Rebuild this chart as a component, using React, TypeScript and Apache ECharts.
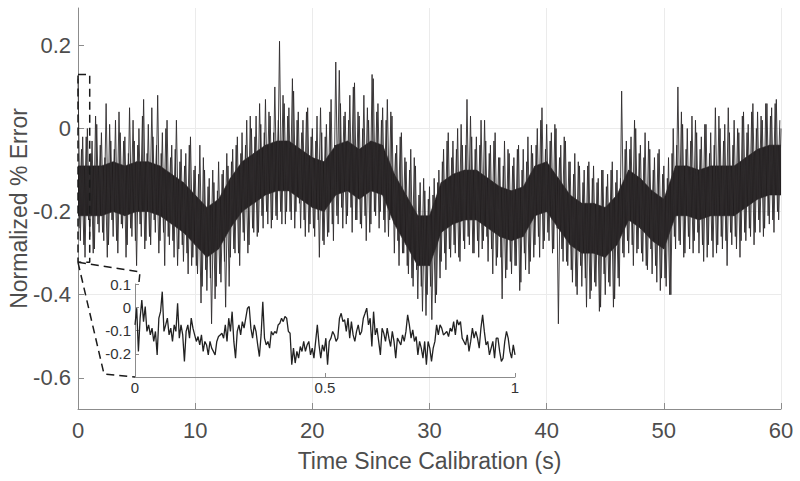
import React, { useEffect, useRef } from "react";
import * as echarts from "echarts";

// Main trace: normalized % error (hand-read, dense noisy band).
// Samples at t = 0, 0.2, 0.4, ... 60 s
const mainStep = 0.2;
const mainValues: number[] = [
  0.12, -0.27, -0.02, -0.31, 0.0,
  -0.26, -0.03, -0.29, 0.01, -0.25,
  -0.01, -0.27, 0.06, -0.28, -0.03,
  -0.26, 0.02, -0.3, -0.01, -0.24,
  -0.02, -0.28, 0.05, -0.26, -0.03,
  -0.33, 0.0, -0.26, 0.07, -0.27,
  0.01, -0.28, -0.02, -0.25, 0.08,
  -0.27, -0.01, -0.33, 0.02, -0.28,
  -0.04, -0.31, 0.02, -0.29, -0.05,
  -0.32, -0.06, -0.35, -0.02, -0.31,
  -0.09, -0.35, -0.04, -0.38, -0.1,
  -0.39, -0.12, -0.47, -0.13, -0.38,
  -0.08, -0.37, -0.1, -0.43, -0.09,
  -0.31, -0.05, -0.3, -0.02, -0.33,
  -0.01, -0.27, 0.02, -0.28, 0.0,
  -0.25, 0.03, -0.25, 0.01, -0.24,
  0.07, -0.23, 0.03, -0.22, 0.1,
  -0.22, 0.21, -0.23, 0.06, -0.2,
  0.05, -0.22, 0.09, -0.2, 0.04,
  -0.24, 0.02, -0.26, 0.05, -0.23,
  0.0, -0.26, 0.03, -0.31, -0.01,
  -0.28, 0.01, -0.25, 0.07, -0.27,
  0.16, -0.23, 0.06, -0.24, 0.04,
  -0.21, 0.08, -0.25, 0.11, -0.22,
  0.03, -0.24, 0.08, -0.27, 0.02,
  -0.23, 0.12, -0.21, 0.06, -0.2,
  0.05, -0.25, 0.07, -0.22, 0.03,
  -0.3, -0.04, -0.33, -0.01, -0.3,
  -0.08, -0.35, -0.05, -0.38, -0.09,
  -0.41, -0.13, -0.44, -0.15, -0.4,
  -0.14, -0.46, -0.12, -0.4, -0.1,
  -0.32, -0.05, -0.34, -0.01, -0.31,
  -0.03, -0.3, 0.0, -0.32, -0.04,
  -0.29, 0.07, -0.28, -0.02, -0.3,
  -0.02, -0.31, 0.02, -0.27, -0.03,
  -0.32, -0.04, -0.35, -0.01, -0.31,
  -0.07, -0.41, -0.03, -0.34, -0.06,
  -0.35, -0.07, -0.33, -0.04, -0.37,
  -0.05, -0.34, -0.02, -0.32, -0.06,
  -0.28, 0.0, -0.31, 0.05, -0.27,
  0.01, -0.27, -0.01, -0.29, 0.0,
  -0.47, -0.04, -0.32, -0.03, -0.33,
  -0.08, -0.37, -0.06, -0.4, -0.09,
  -0.38, -0.1, -0.43, -0.08, -0.39,
  -0.09, -0.38, -0.12, -0.43, -0.1,
  -0.4, -0.11, -0.38, -0.08, -0.41,
  -0.1, -0.38, 0.09, -0.31, -0.03,
  -0.3, -0.02, -0.33, 0.0, -0.29,
  -0.04, -0.32, -0.01, -0.34, -0.05,
  -0.35, -0.07, -0.37, -0.05, -0.36,
  -0.09, -0.38, -0.07, -0.4, 0.0,
  -0.29, 0.1, -0.28, 0.01, -0.3,
  0.0, -0.29, 0.03, -0.27, -0.01,
  -0.3, -0.02, -0.32, 0.01, -0.28,
  -0.01, -0.31, 0.05, -0.28, 0.0,
  -0.29, 0.01, -0.33, -0.01, -0.28,
  0.02, -0.29, -0.01, -0.27, 0.04,
  -0.27, 0.01, -0.26, 0.06, -0.25,
  0.04, -0.25, 0.02, -0.24, 0.06,
  -0.23, 0.05, -0.25, 0.07, -0.22,
  0.0,
];
// Interleaved samples at t = 0.1, 0.3, 0.5, ... 59.9 s
const mainOffset = 0.1;
const mainValuesB: number[] = [
  -0.24, -0.05, -0.28, -0.02, -0.22,
  -0.06, -0.3, 0.03, -0.23, -0.04,
  -0.25, -0.07, -0.31, 0.01, -0.22,
  -0.05, -0.27, 0.04, -0.23, -0.03,
  -0.31, -0.06, -0.24, 0.02, -0.27,
  -0.04, -0.23, 0.03, -0.29, -0.06,
  -0.26, 0.05, -0.22, -0.04, -0.3,
  -0.06, -0.25, 0.0, -0.26, -0.07,
  -0.27, -0.05, -0.33, -0.08, -0.28,
  -0.09, -0.3, -0.04, -0.33, -0.1,
  -0.33, -0.11, -0.42, -0.07, -0.34,
  -0.14, -0.36, -0.1, -0.41, -0.15,
  -0.35, -0.11, -0.32, -0.06, -0.38,
  -0.08, -0.29, -0.04, -0.3, -0.06,
  -0.25, -0.04, -0.3, 0.03, -0.24,
  -0.02, -0.26, 0.06, -0.21, -0.01,
  -0.2, 0.04, -0.24, -0.01, -0.21,
  0.02, -0.2, 0.08, -0.23, 0.03,
  -0.2, 0.12, -0.24, 0.02, -0.18,
  -0.01, -0.22, 0.04, -0.25, -0.02,
  -0.24, -0.03, -0.22, 0.05, -0.27,
  -0.02, -0.26, 0.04, -0.23, -0.04,
  -0.21, 0.14, -0.19, 0.03, -0.23,
  0.02, -0.19, 0.1, -0.22, 0.04,
  -0.23, 0.0, -0.21, 0.05, -0.25,
  0.13, -0.2, 0.04, -0.24, 0.02,
  -0.22, 0.02, -0.26, 0.04, -0.21,
  -0.06, -0.27, -0.02, -0.3, -0.07,
  -0.33, -0.1, -0.36, -0.07, -0.34,
  -0.16, -0.38, -0.12, -0.45, -0.17,
  -0.38, -0.16, -0.42, -0.13, -0.36,
  -0.08, -0.3, -0.03, -0.29, -0.07,
  -0.28, -0.05, -0.31, 0.01, -0.27,
  -0.04, -0.26, 0.03, -0.3, -0.05,
  -0.27, -0.04, -0.29, 0.02, -0.26,
  -0.06, -0.29, -0.03, -0.33, -0.07,
  -0.31, -0.09, -0.36, -0.05, -0.32,
  -0.09, -0.33, -0.05, -0.39, -0.1,
  -0.3, -0.08, -0.35, -0.04, -0.31,
  -0.04, -0.26, 0.02, -0.29, -0.05,
  -0.25, -0.03, -0.3, 0.01, -0.24,
  -0.07, -0.29, -0.02, -0.32, -0.08,
  -0.34, -0.11, -0.38, -0.08, -0.33,
  -0.13, -0.36, -0.09, -0.41, -0.12,
  -0.37, -0.13, -0.44, -0.1, -0.35,
  -0.14, -0.37, -0.1, -0.43, -0.13,
  -0.36, -0.12, -0.3, -0.05, -0.27,
  -0.05, -0.28, 0.02, -0.3, -0.06,
  -0.3, -0.07, -0.33, -0.03, -0.29,
  -0.1, -0.33, -0.06, -0.39, -0.11,
  -0.36, -0.12, -0.4, -0.06, -0.26,
  -0.04, -0.27, 0.04, -0.31, -0.05,
  -0.26, -0.03, -0.3, 0.02, -0.25,
  -0.05, -0.28, 0.01, -0.31, -0.06,
  -0.27, -0.04, -0.3, 0.03, -0.26,
  -0.03, -0.27, 0.05, -0.25, -0.04,
  -0.26, 0.0, -0.31, 0.03, -0.25,
  -0.01, -0.24, 0.04, -0.28, 0.0,
  -0.22, 0.03, -0.26, 0.06, -0.21,
  0.03, -0.22, 0.06, -0.2, 0.02,
];

// Dense core of the trace (where the noise is solid black), one reading per second 0..60
const coreHigh: number[] = [
  -0.09, -0.09, -0.09, -0.08, -0.09, -0.08, -0.08, -0.09, -0.11, -0.13,
  -0.16, -0.19, -0.17, -0.12, -0.08, -0.06, -0.04, -0.03, -0.03, -0.05,
  -0.07, -0.08, -0.04, -0.03, -0.05, -0.03, -0.04, -0.11, -0.16, -0.21,
  -0.21, -0.13, -0.11, -0.1, -0.1, -0.12, -0.14, -0.15, -0.14, -0.09,
  -0.08, -0.12, -0.16, -0.18, -0.18, -0.19, -0.16, -0.1, -0.12, -0.15,
  -0.17, -0.09, -0.09, -0.1, -0.09, -0.09, -0.09, -0.07, -0.05, -0.04,
  -0.04,
];
const coreLow: number[] = [
  -0.21, -0.21, -0.21, -0.2, -0.21, -0.2, -0.2, -0.21, -0.23, -0.25,
  -0.28, -0.31, -0.29, -0.24, -0.2, -0.18, -0.16, -0.15, -0.15, -0.17,
  -0.19, -0.2, -0.16, -0.15, -0.17, -0.15, -0.16, -0.23, -0.28, -0.33,
  -0.33, -0.25, -0.23, -0.22, -0.22, -0.24, -0.26, -0.27, -0.26, -0.21,
  -0.2, -0.24, -0.28, -0.3, -0.3, -0.31, -0.28, -0.22, -0.24, -0.27,
  -0.29, -0.21, -0.21, -0.22, -0.21, -0.21, -0.21, -0.19, -0.17, -0.16,
  -0.16,
];

// Inset: first second of the recording (hand-read)
const insetValues: number[] = [
  -0.076, -0.004, -0.19, -0.047, 0.031, -0.062, 0.003, -0.104, -0.076, -0.119,
  -0.09, -0.147, -0.104, -0.205, -0.047, -0.019, 0.067, -0.104, -0.076, -0.047,
  -0.119, -0.09, -0.147, -0.076, -0.104, 0.017, -0.133, -0.076, -0.119, -0.233,
  -0.104, -0.076, -0.133, -0.047, -0.09, -0.119, -0.147, -0.126, -0.162, -0.119,
  -0.19, -0.147, -0.162, -0.205, -0.147, -0.176, -0.19, -0.205, -0.147, -0.126,
  -0.119, -0.112, -0.133, -0.076, -0.147, -0.047, -0.104, -0.019, -0.147, -0.219,
  -0.104, -0.076, -0.119, -0.062, -0.09, -0.047, -0.004,
  0.003, -0.09, -0.133, -0.076, -0.104, -0.162, -0.212, -0.119, 0.024, -0.133,
  -0.162, -0.147, -0.176, -0.104, -0.119, -0.104, -0.112, -0.076, -0.069, -0.047,
  -0.062, -0.04, -0.047, -0.104, -0.112, -0.247, -0.176, -0.24, -0.19, -0.219,
  -0.169, -0.19, -0.147, -0.19, -0.162, -0.147, -0.205, -0.176, -0.219, -0.147,
  -0.076, -0.162, -0.219, -0.162, -0.19, -0.133, -0.247, -0.147, -0.133, -0.104,
  -0.119, -0.147, -0.133, -0.047, -0.026, -0.062, -0.054, -0.104, -0.047, -0.133,
  -0.062, -0.119, -0.147, -0.104, -0.076, -0.119, -0.104, -0.047, -0.026, -0.004,
  -0.076, -0.047, -0.169, -0.019, -0.119,
  -0.09, -0.147, -0.205, -0.09, -0.112, -0.147, -0.09, -0.133, -0.169, -0.104,
  -0.147, -0.219, -0.133, -0.147, -0.162, -0.119, -0.147, -0.104, -0.033, -0.076,
  -0.133, -0.097, -0.147, -0.126, -0.205, -0.147, -0.176, -0.219, -0.147, -0.247,
  -0.147, -0.176, -0.233, -0.176, -0.147, -0.076, -0.119, -0.076, -0.09, -0.119,
  -0.112, -0.104, -0.126, -0.09, -0.104, -0.062, -0.119, -0.054, -0.076, -0.062,
  -0.133, -0.147, -0.162, -0.119, -0.19, -0.147, -0.09, -0.133, -0.104, -0.133,
  -0.176, -0.09, -0.033, -0.104, -0.162, -0.147, -0.205, -0.176, -0.147, -0.219,
  -0.133, -0.133, -0.19, -0.233, -0.219, -0.147, -0.104, -0.133, -0.19, -0.219,
  -0.162, -0.205,
];

const xTicks = [0, 10, 20, 30, 40, 50, 60];
const yTicks = [-0.6, -0.4, -0.2, 0, 0.2];
const insetXTicks = [0, 0.5, 1];
const insetYTicks = [-0.2, -0.1, 0, 0.1];
// zoom region of the inset, in main-axis data units: [t0, t1, yLow, yHigh]
const zoomRegion = [0, 1, -0.322, 0.13];

const FONT = "Liberation Sans, Arial, Helvetica, sans-serif";
const AXIS_COLOR = "#8c8c8c";
const TEXT_COLOR = "#4d4d4d";
const TRACE_COLOR = "#231f20";

export default function App() {
  const ref = useRef<HTMLDivElement>(null);

  useEffect(() => {
    if (!ref.current) return;
    const chart = echarts.init(ref.current, undefined, { renderer: "svg" });

    const mainData = mainValues.map((v, i) => [i * mainStep, v]);
    const mainDataB = mainValuesB.map((v, i) => [mainOffset + i * mainStep, v]);
    const coreData = coreHigh.map((h, i) => [i, coreLow[i], h]);
    const insetData = insetValues.map((v, i) => [i / (insetValues.length - 1), v]);
    const [t0, t1, yLo, yHi] = zoomRegion;
    const boxData = [
      [t0, yHi],
      [t1, yHi],
      [t1, yLo],
      [t0, yLo],
      [t0, yHi],
    ];

    const renderCore = (params: any, api: any) => {
      const i = params.dataIndex;
      if (i >= coreData.length - 1) return null;
      const a = coreData[i];
      const b = coreData[i + 1];
      const pts = [
        api.coord([a[0], a[2]]),
        api.coord([b[0], b[2]]),
        api.coord([b[0], b[1]]),
        api.coord([a[0], a[1]]),
      ];
      return {
        type: "polygon",
        shape: { points: pts },
        style: { fill: TRACE_COLOR, stroke: TRACE_COLOR, lineWidth: 0.6 },
      };
    };

    const traceStyle = { color: "#2f2b2c", width: 0.9 };

    chart.setOption({
      animation: false,
      backgroundColor: "#ffffff",
      textStyle: { fontFamily: FONT },
      grid: [
        { left: 78, right: 19, top: 8, bottom: 72, outerBoundsMode: "none", containLabel: false },
        { left: 135, right: 285, top: 284, bottom: 104, outerBoundsMode: "none", containLabel: false },
      ],
      xAxis: [
        {
          gridIndex: 0,
          type: "value",
          min: xTicks[0],
          max: xTicks[xTicks.length - 1],
          interval: 10,
          name: "Time Since Calibration (s)",
          nameLocation: "middle",
          nameGap: 40,
          nameMoveOverlap: false,
          nameTextStyle: { fontSize: 23, color: TEXT_COLOR, fontFamily: FONT },
          axisLine: { onZero: false, lineStyle: { color: AXIS_COLOR, width: 1 } },
          axisTick: { inside: true, length: 6, lineStyle: { color: AXIS_COLOR } },
          axisLabel: { fontSize: 22, color: TEXT_COLOR, margin: 10, fontFamily: FONT },
          splitLine: { show: true, lineStyle: { color: "#ebebeb", width: 1 } },
        },
        {
          gridIndex: 1,
          type: "value",
          min: insetXTicks[0],
          max: insetXTicks[insetXTicks.length - 1],
          interval: 0.5,
          axisLine: { onZero: false, lineStyle: { color: AXIS_COLOR, width: 1 } },
          axisTick: { inside: true, length: 4, lineStyle: { color: AXIS_COLOR } },
          axisLabel: { fontSize: 15, color: "#333333", margin: 3, fontFamily: FONT },
          splitLine: { show: false },
        },
      ],
      yAxis: [
        {
          gridIndex: 0,
          type: "value",
          min: -0.675,
          max: 0.29,
          splitNumber: 5,
          name: "Normalized % Error",
          nameLocation: "middle",
          nameGap: 48,
          nameMoveOverlap: false,
          nameTextStyle: { fontSize: 23, color: TEXT_COLOR, fontFamily: FONT },
          axisLine: { show: true, onZero: false, lineStyle: { color: AXIS_COLOR, width: 1 } },
          axisTick: {
            show: true,
            inside: true,
            length: 6,
            customValues: yTicks,
            lineStyle: { color: AXIS_COLOR },
          },
          axisLabel: {
            fontSize: 22,
            color: TEXT_COLOR,
            margin: 7,
            fontFamily: FONT,
            customValues: yTicks,
            formatter: (v: number) => String(Math.round(v * 10) / 10),
          },
          splitLine: {
            show: true,
            showMinLine: false,
            showMaxLine: false,
            lineStyle: { color: "#ebebeb", width: 1 },
          },
        },
        {
          gridIndex: 1,
          type: "value",
          min: -0.3,
          max: insetYTicks[insetYTicks.length - 1],
          interval: 0.1,
          axisLine: { show: true, onZero: false, lineStyle: { color: AXIS_COLOR, width: 1 } },
          axisTick: {
            show: true,
            inside: true,
            length: 4,
            customValues: insetYTicks,
            lineStyle: { color: AXIS_COLOR },
          },
          axisLabel: {
            fontSize: 15,
            color: "#333333",
            margin: 4,
            fontFamily: FONT,
            customValues: insetYTicks,
            formatter: (v: number) => String(Math.round(v * 10) / 10),
          },
          splitLine: { show: false },
        },
      ],
      series: [
        {
          type: "custom",
          xAxisIndex: 0,
          yAxisIndex: 0,
          data: coreData,
          renderItem: renderCore,
          encode: { x: 0, y: [1, 2] },
          clip: true,
          silent: true,
          z: 2,
        },
        {
          type: "line",
          xAxisIndex: 0,
          yAxisIndex: 0,
          data: mainData,
          showSymbol: false,
          lineStyle: traceStyle,
          silent: true,
          z: 3,
        },
        {
          type: "line",
          xAxisIndex: 0,
          yAxisIndex: 0,
          data: mainDataB,
          showSymbol: false,
          lineStyle: traceStyle,
          silent: true,
          z: 3,
        },
        {
          type: "line",
          xAxisIndex: 0,
          yAxisIndex: 0,
          data: boxData,
          showSymbol: false,
          lineStyle: { color: "#1a1a1a", width: 1.5, type: [8, 5] },
          silent: true,
          z: 4,
        },
        {
          type: "line",
          xAxisIndex: 1,
          yAxisIndex: 1,
          data: insetData,
          showSymbol: false,
          lineStyle: { color: "#222222", width: 1.3 },
          silent: true,
          z: 5,
        },
      ],
    });

    const p0 = chart.convertToPixel({ gridIndex: 0 }, [t0, yLo]) as number[];
    const insetTL = chart.convertToPixel({ gridIndex: 1 }, [0, 0.1]) as number[];
    const insetBL = chart.convertToPixel({ gridIndex: 1 }, [0, -0.3]) as number[];
    if (p0 && insetTL && insetBL) {
      chart.setOption({
        graphic: [
          {
            type: "polyline",
            silent: true,
            z: 10,
            shape: {
              points: [
                [p0[0], p0[1]],
                [insetTL[0] + 5, insetTL[1] - 12],
                [insetTL[0] + 4, insetTL[1] - 2],
              ],
            },
            style: { stroke: "#1a1a1a", lineWidth: 1.5, lineDash: [8, 5], fill: null },
          },
          {
            type: "polyline",
            silent: true,
            z: 10,
            shape: {
              points: [
                [p0[0], p0[1]],
                [insetBL[0] - 31, insetBL[1] - 3],
                [insetBL[0], insetBL[1]],
              ],
            },
            style: { stroke: "#1a1a1a", lineWidth: 1.5, lineDash: [8, 5], fill: null },
          },
        ],
      });
    }

    return () => chart.dispose();
  }, []);

  return (
    <div
      ref={ref}
      style={{ position: "absolute", left: 0, top: 0, width: 800, height: 481 }}
    />
  );
}
